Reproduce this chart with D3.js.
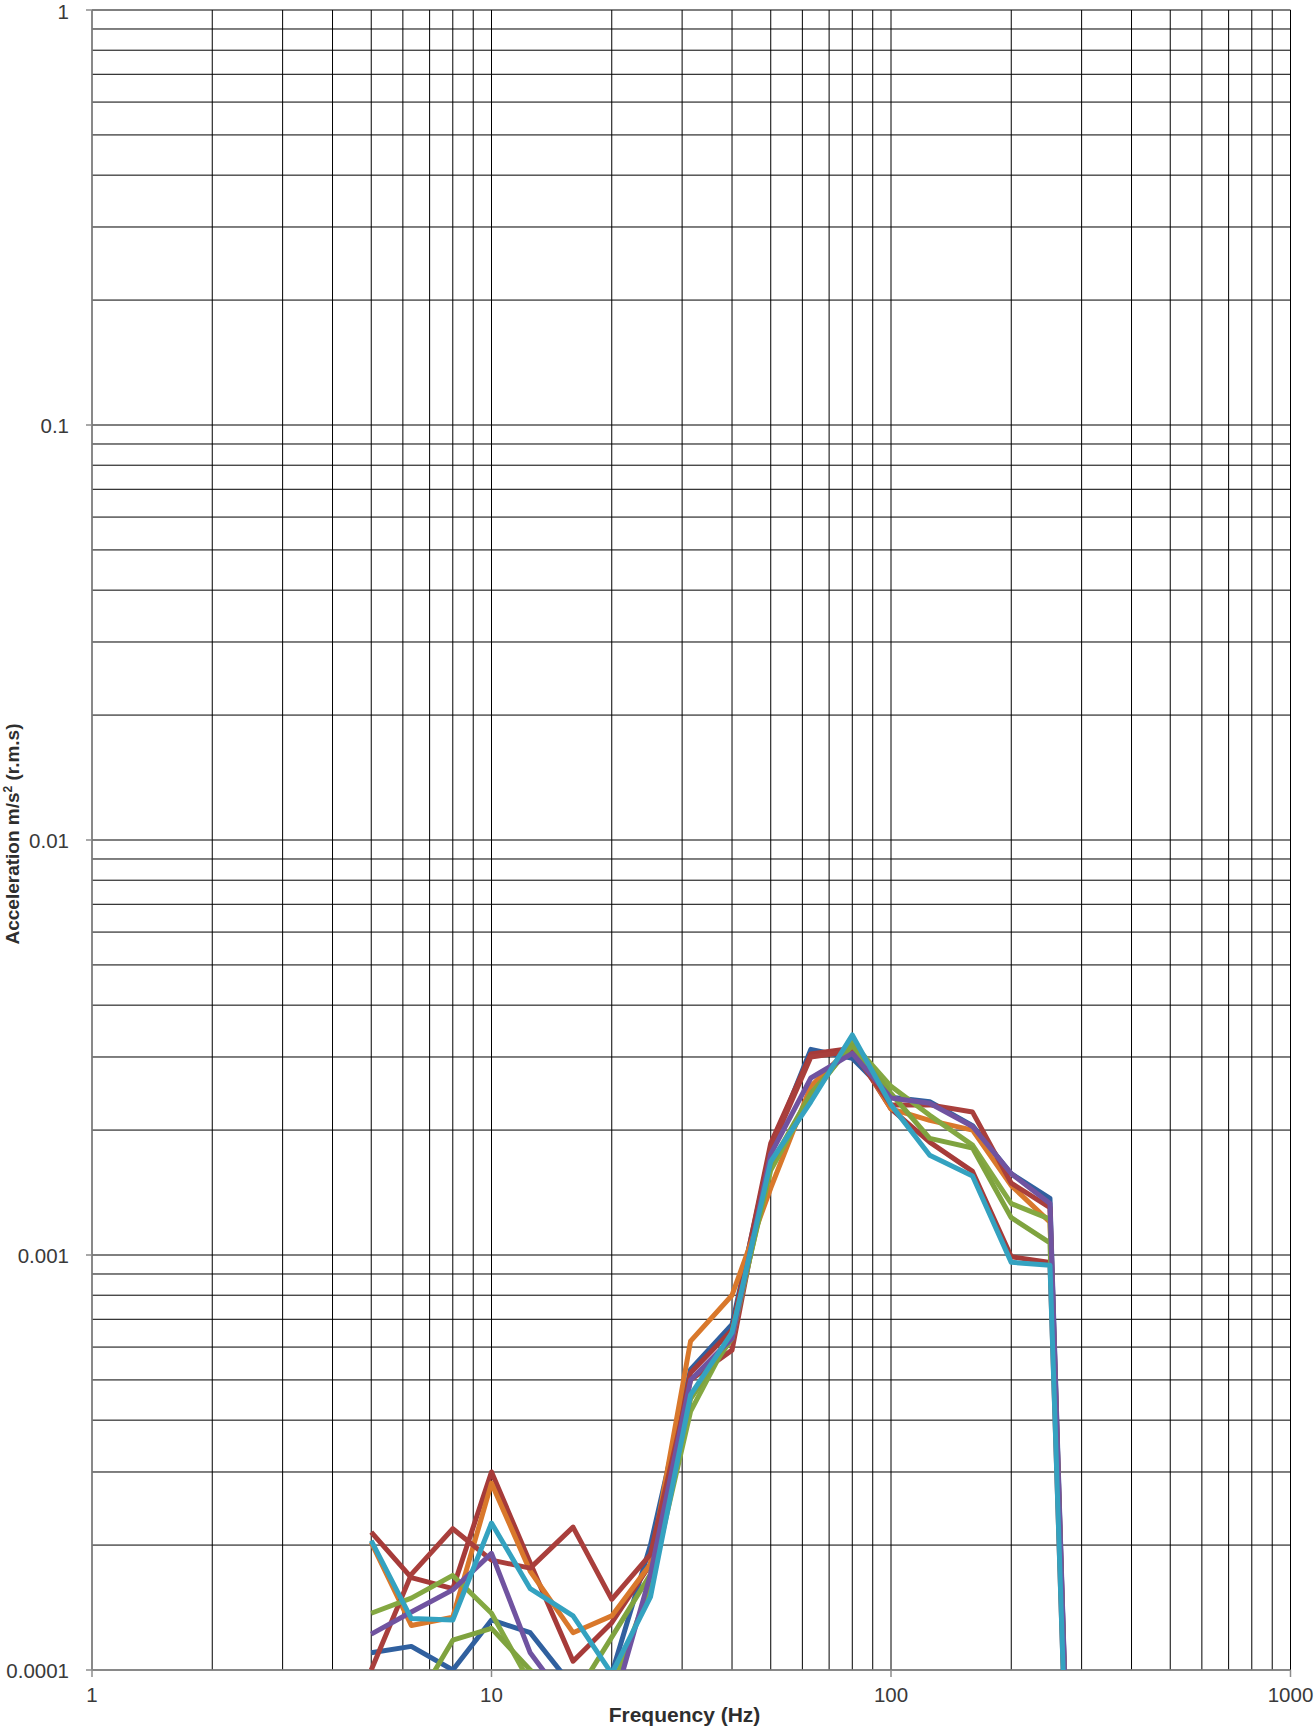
<!DOCTYPE html>
<html>
<head>
<meta charset="utf-8">
<script src="https://cdn.jsdelivr.net/npm/d3@7"></script>
<style>
  html, body { margin: 0; padding: 0; background: #fff; }
  svg { display: block; }
</style>
</head>
<body>
<div id="chart"></div>
<script>
/* ── data: 1/3-octave band acceleration (m/s² r.m.s) ─────────────── */
const freqs = [5, 6.3, 8, 10, 12.5, 16, 20, 25, 31.5, 40, 50, 63, 80, 100, 125, 160, 200, 250, 315];

const blue   = [1.10e-4, 1.14e-4, 1.00e-4, 1.32e-4, 1.23e-4, 9.1e-5, 9.8e-5, 2.0e-4, 5.3e-4, 6.8e-4, 1.80e-3, 3.13e-3, 2.98e-3, 2.40e-3, 2.34e-3, 2.05e-3, 1.57e-3, 1.37e-3, 1e-6];
const redA   = [2.15e-4, 1.67e-4, 1.57e-4, 3.00e-4, 1.81e-4, 1.05e-4, 1.30e-4, 1.8e-4, 5.2e-4, 6.6e-4, 1.86e-3, 3.05e-3, 3.15e-3, 2.25e-3, 1.87e-3, 1.59e-3, 9.9e-4, 9.6e-4, 1e-6];
const orange = [2.03e-4, 1.28e-4, 1.34e-4, 2.82e-4, 1.73e-4, 1.23e-4, 1.35e-4, 1.8e-4, 6.2e-4, 8.0e-4, 1.45e-3, 2.55e-3, 3.20e-3, 2.25e-3, 2.11e-3, 2.00e-3, 1.47e-3, 1.20e-3, 1e-6];
const redB   = [1.00e-4, 1.70e-4, 2.19e-4, 1.84e-4, 1.76e-4, 2.21e-4, 1.48e-4, 1.9e-4, 5.0e-4, 5.9e-4, 1.80e-3, 3.00e-3, 3.10e-3, 2.30e-3, 2.30e-3, 2.21e-3, 1.49e-3, 1.30e-3, 1e-6];
const greenA = [1.37e-4, 1.49e-4, 1.69e-4, 1.37e-4, 9.3e-5, 7.0e-5, 9.0e-5, 1.6e-4, 4.2e-4, 6.5e-4, 1.60e-3, 2.40e-3, 3.25e-3, 2.55e-3, 2.17e-3, 1.84e-3, 1.33e-3, 1.22e-3, 1e-6];
const greenB = [8.0e-5, 8.0e-5, 1.18e-4, 1.26e-4, 1.00e-4, 8.5e-5, 1.20e-4, 1.7e-4, 4.5e-4, 6.3e-4, 1.65e-3, 2.45e-3, 3.20e-3, 2.45e-3, 1.91e-3, 1.81e-3, 1.23e-3, 1.07e-3, 1e-6];
const purple = [1.22e-4, 1.38e-4, 1.56e-4, 1.91e-4, 1.10e-4, 8.0e-5, 8.0e-5, 1.7e-4, 5.0e-4, 6.3e-4, 1.75e-3, 2.67e-3, 3.06e-3, 2.39e-3, 2.32e-3, 2.04e-3, 1.57e-3, 1.33e-3, 1e-6];
const cyan   = [2.05e-4, 1.33e-4, 1.32e-4, 2.26e-4, 1.57e-4, 1.35e-4, 9.8e-5, 1.5e-4, 4.6e-4, 6.5e-4, 1.68e-3, 2.34e-3, 3.39e-3, 2.30e-3, 1.74e-3, 1.55e-3, 9.6e-4, 9.45e-4, 1e-6];

const seriesNames  = ['blue', 'redA', 'orange', 'redB', 'greenA', 'greenB', 'purple', 'cyan'];
const seriesValues = [blue, redA, orange, redB, greenA, greenB, purple, cyan];
const seriesColors = ['#30609f', '#a63b39', '#d9782b', '#a93f3c', '#84a842', '#7fa33f', '#7053a0', '#34a2c0'];

const xTicks = [1, 10, 100, 1000];
const yTicks = [1, 0.1, 0.01, 0.001, 0.0001];
const yTickLabels = ['1', '0.1', '0.01', '0.001', '0.0001'];

/* ── layout ──────────────────────────────────────────────────────── */
const W = 1315, H = 1727;
const x = d3.scaleLog().domain([1, 1000]).range([92, 1290.5]);
const y = d3.scaleLog().domain([0.0001, 1]).range([1670, 10]);

const svg = d3.select('#chart').append('svg')
  .attr('width', W).attr('height', H)
  .attr('viewBox', `0 0 ${W} ${H}`);

/* minor + major grid: 1..9 in every decade */
function decadeLines(lo, hi) {
  const out = [];
  for (let p = lo; p < hi; p++) {
    for (let k = 1; k < 10; k++) out.push(k * Math.pow(10, p));
  }
  out.push(Math.pow(10, hi));
  return out;
}
const gx = decadeLines(0, 3);
const gy = decadeLines(-4, 0);

const grid = svg.append('g').attr('stroke', '#000').attr('stroke-width', 1);
grid.selectAll('line.vx').data(gx).join('line')
  .attr('x1', d => x(d)).attr('x2', d => x(d))
  .attr('y1', y(1)).attr('y2', y(0.0001));
grid.selectAll('line.hy').data(gy).join('line')
  .attr('x1', x(1)).attr('x2', x(1000))
  .attr('y1', d => y(d)).attr('y2', d => y(d));

/* axes (Excel-like grey lines, outside major ticks) */
const axisCol = '#8c8c8c';
svg.append('line').attr('x1', x(1)).attr('x2', x(1)).attr('y1', y(1)).attr('y2', y(0.0001))
  .attr('stroke', axisCol).attr('stroke-width', 1.5);
svg.append('line').attr('x1', x(1)).attr('x2', x(1000)).attr('y1', y(0.0001)).attr('y2', y(0.0001))
  .attr('stroke', axisCol).attr('stroke-width', 1.5);
svg.selectAll('line.ytick').data(yTicks).join('line')
  .attr('x1', x(1) - 6).attr('x2', x(1))
  .attr('y1', d => y(d)).attr('y2', d => y(d))
  .attr('stroke', axisCol).attr('stroke-width', 1.5);
svg.selectAll('line.xtick').data(xTicks).join('line')
  .attr('x1', d => x(d)).attr('x2', d => x(d))
  .attr('y1', y(0.0001)).attr('y2', y(0.0001) + 7)
  .attr('stroke', axisCol).attr('stroke-width', 1.5);

/* tick labels — the top one is nudged so it stays inside the page */
const font = 'Liberation Sans, Arial, sans-serif';
svg.selectAll('text.ylab').data(yTicks).join('text')
  .attr('x', 69).attr('y', d => Math.max(y(d) + 8, 19))
  .attr('text-anchor', 'end')
  .attr('font-family', font).attr('font-size', 20.5).attr('fill', '#3a3a3a')
  .text((d, i) => yTickLabels[i]);
svg.selectAll('text.xlab').data(xTicks).join('text')
  .attr('x', d => x(d)).attr('y', 1702)
  .attr('text-anchor', 'middle')
  .attr('font-family', font).attr('font-size', 20.5).attr('fill', '#3a3a3a')
  .text(d => d);

/* axis titles */
svg.append('text')
  .attr('x', 684.5).attr('y', 1722)
  .attr('text-anchor', 'middle')
  .attr('font-family', font).attr('font-size', 21).attr('font-weight', 'bold')
  .attr('fill', '#2e2e2e').text('Frequency (Hz)');
svg.append('text')
  .attr('transform', `translate(19,${834}) rotate(-90)`)
  .attr('text-anchor', 'middle')
  .attr('font-family', font).attr('font-size', 19).attr('font-weight', 'bold')
  .attr('fill', '#2e2e2e')
  .html('Acceleration m/s<tspan dy="-7" font-size="12">2</tspan><tspan dy="7"> (r.m.s)</tspan>');

/* series lines, clipped to plot area */
svg.append('clipPath').attr('id', 'plot-clip')
  .append('rect').attr('x', x(1)).attr('y', y(1))
  .attr('width', x(1000) - x(1)).attr('height', y(0.0001) - y(1));

const line = d3.line()
  .x((d, i) => x(freqs[i]))
  .y(d => y(d));

svg.append('g').attr('clip-path', 'url(#plot-clip)')
  .selectAll('path').data(seriesValues).join('path')
  .attr('class', (d, i) => 'series ' + seriesNames[i])
  .attr('fill', 'none')
  .attr('stroke', (d, i) => seriesColors[i])
  .attr('stroke-width', 5)
  .attr('stroke-linejoin', 'round')
  .attr('d', line);
</script>
</body>
</html>
